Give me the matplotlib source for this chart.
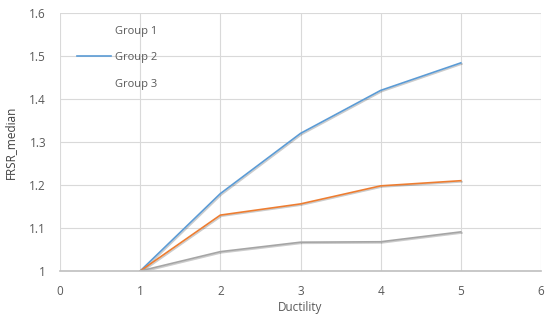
import matplotlib
matplotlib.use("Agg")
import matplotlib.pyplot as plt
import matplotlib.patheffects as pe
from matplotlib.lines import Line2D
from matplotlib.ticker import FuncFormatter

ductility = [1, 2, 3, 4, 5]
grupo_azul = [1.0, 1.18, 1.32, 1.42, 1.484]
grupo_naranja = [1.0, 1.13, 1.156, 1.198, 1.21]
grupo_gris = [1.0, 1.045, 1.067, 1.068, 1.091]
etiquetas = ["Group 1", "Group 2", "Group 3"]

plt.rcParams["font.family"] = ["Open Sans", "DejaVu Sans"]
gris_texto = "#595959"
sombra = [pe.SimpleLineShadow(offset=(0.8, -0.8), alpha=0.2), pe.Normal()]

fig = plt.figure(figsize=(5.45, 3.2), dpi=100)
ax = fig.add_axes([60 / 545, 1 - 271 / 320, 481 / 545, 258 / 320])

ax.plot(ductility, grupo_azul, color="#5b9bd5", lw=1.2, path_effects=sombra)
ax.plot(ductility, grupo_naranja, color="#ed7d31", lw=1.2, path_effects=sombra)
ax.plot(ductility, grupo_gris, color="#a5a5a5", lw=1.2, path_effects=sombra)

ax.set_xlim(0, 6)
ax.set_ylim(1, 1.6)
ax.set_xticks(range(0, 7))
ax.set_yticks([1, 1.1, 1.2, 1.3, 1.4, 1.5, 1.6])
ax.yaxis.set_major_formatter(FuncFormatter(lambda v, p: f"{v:g}"))
ax.grid(True, color="#d9d9d9", lw=0.8)
ax.set_axisbelow(True)
for s in ["top", "right", "left"]:
    ax.spines[s].set_visible(False)
ax.spines["bottom"].set_color("#bfbfbf")
ax.spines["bottom"].set_linewidth(1.2)
ax.tick_params(length=0, labelsize=8.5, colors=gris_texto)
ax.tick_params(axis="x", pad=10)
ax.tick_params(axis="y", pad=10)

ax.set_xlabel("Ductility", fontsize=8.5, color=gris_texto, labelpad=2)
ax.set_ylabel("FRSR_median", fontsize=8.5, color="#404040", labelpad=9)

handles = [
    Line2D([], [], color="none"),
    Line2D([], [], color="#5b9bd5", lw=1.2),
    Line2D([], [], color="none"),
]
ax.legend(handles, etiquetas, loc="upper left", bbox_to_anchor=(0.015, 0.99),
          frameon=False, fontsize=8, labelcolor=gris_texto, handlelength=3.0,
          handletextpad=0.4, labelspacing=1.4)

fig.savefig("out.png", dpi=100)
